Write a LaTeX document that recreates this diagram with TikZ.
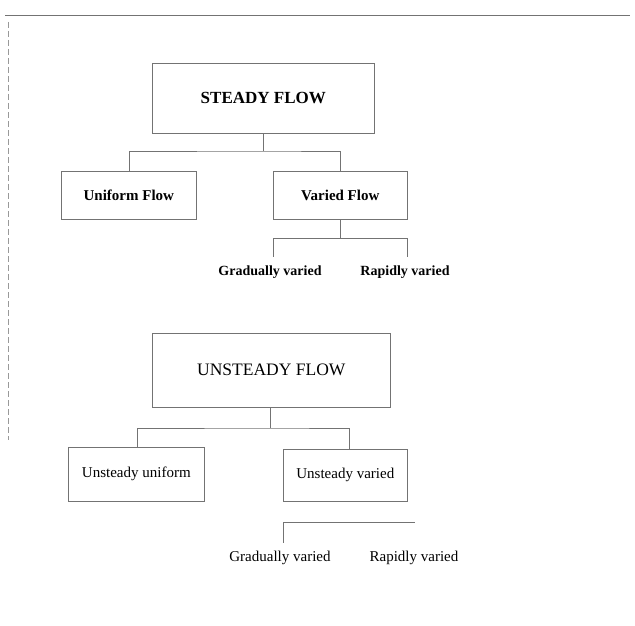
\documentclass[tikz,border=0pt]{standalone}
\usepackage{fontspec}
\setmainfont{Liberation Serif}
\begin{document}
\begin{tikzpicture}[x=1pt,y=-1pt,
  ln/.style={draw=black!55,line width=0.6pt},
  bx/.style={ln,rectangle,inner sep=0pt,anchor=north west},
  lbl/.style={font=\fontsize{14}{16}\selectfont\bfseries},
  lblr/.style={font=\fontsize{15}{17}\selectfont}]
\useasboundingbox (0,0) rectangle (635,626);
% frame remnants
\draw[ln] (5,15) -- (630,15);
\draw[draw=black!40,line width=0.5pt,dash pattern=on 6pt off 3pt] (8,22) -- (8,440);
% steady tree
\node[bx,minimum width=222,minimum height=70,font=\fontsize{17}{19}\selectfont\bfseries] (sf) at (152,63) {STEADY FLOW};
\node[bx,minimum width=135,minimum height=48,font=\fontsize{15}{17}\selectfont\bfseries] (uf) at (61,171) {Uniform Flow};
\node[bx,minimum width=134,minimum height=48,font=\fontsize{15}{17}\selectfont\bfseries] (vf) at (273,171) {Varied Flow};
\coordinate (sj) at (263,151);
\draw[ln] (sf.south -| sj) -- (sj);
\draw[ln] (uf.north) |- (sj) -| (vf.north);
\coordinate (vj) at (vf.south |- 0,238);
\coordinate (vl) at (273,238);
\coordinate (vr) at (407,238);
\draw[ln] (vf.south) -- (vj);
\draw[ln] (vl) -- (vr);
\node[lbl] (g1) at (270,272) {Gradually varied};
\node[lbl] (r1) at (405,272) {Rapidly varied};
\draw[ln] (vl) -- (vl |- 0,257);
\draw[ln] (vr) -- (vr |- 0,257);
% unsteady tree
\node[bx,minimum width=238,minimum height=74,font=\fontsize{17.5}{20}\selectfont] (us) at (152,333) {UNSTEADY FLOW};
\node[bx,minimum width=136,minimum height=54,lblr] (uu) at (68,447) {Unsteady uniform};
\node[bx,minimum width=124,minimum height=52,lblr] (uv) at (283,449) {Unsteady varied};
\coordinate (uj) at (270,428);
\draw[ln] (us.south -| uj) -- (uj);
\draw[ln] (uu.north -| 137,0) |- (uj) -| (uv.north -| 349,0);
\coordinate (ul) at (283,522);
\coordinate (ur) at (415,522);
\draw[ln] (ul) -- (ur);
\draw[ln] (ul) -- (ul |- 0,543);
\node[lblr] (g2) at (280,558) {Gradually varied};
\node[lblr] (r2) at (414,558) {Rapidly varied};
\end{tikzpicture}
\end{document}
